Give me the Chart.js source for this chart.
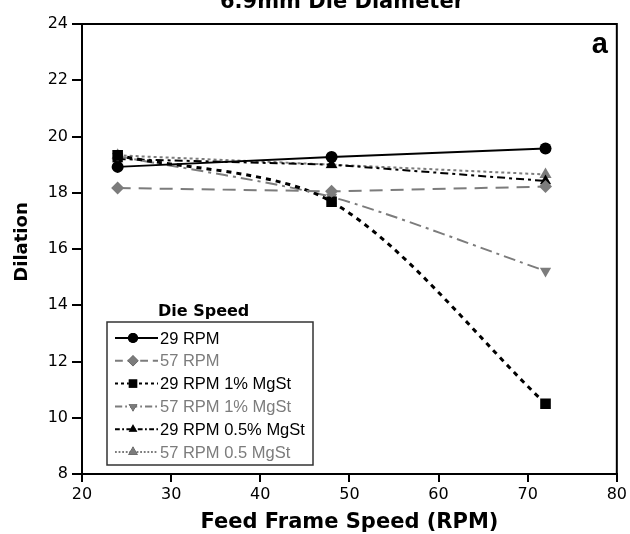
<!DOCTYPE html>
<html>
<head>
<meta charset="utf-8">
<script src="https://cdn.jsdelivr.net/npm/chart.js"></script>
<style>
  html, body { margin: 0; padding: 0; background: #fff; }
  #wrap { width: 630px; height: 534px; }
</style>
</head>
<body>
<div id="wrap"><canvas id="my-chart" width="630" height="534"></canvas></div>
<script>
// feed frame speeds (RPM)
const feedSpeeds = [24, 48, 72];

// dilation values per die speed series
const rpm29 = [18.92, 19.27, 19.57];
const rpm57 = [18.17, 18.05, 18.22];
const rpm29Mg1 = [19.33, 17.68, 10.5];
const rpm57Mg1 = [19.3, 17.85, 15.22];
const rpm29Mg05 = [19.2, 19.0, 18.42];
const rpm57Mg05 = [19.33, 19.0, 18.65];

const seriesNames = ['29 RPM', '57 RPM', '29 RPM 1% MgSt', '57 RPM 1% MgSt', '29 RPM 0.5% MgSt', '57 RPM 0.5 MgSt'];
const xTicks = [20, 30, 40, 50, 60, 70, 80];
const yTicks = [8, 10, 12, 14, 16, 18, 20, 22, 24];

const black = '#000';
const gray = '#7c7c7c';

function pts(vals) {
    return feedSpeeds.map((x, i) => ({ x: x, y: vals[i] }));
}

const styles = [
    { vals: rpm29, color: black, dash: [], width: 2, point: 'circle', r: 6, lr: 5, rot: 0, tension: 0 },
    { vals: rpm57, color: gray, dash: [13, 8], width: 2, point: 'rectRot', r: 6.5, lr: 5.5, rot: 0, tension: 0 },
    { vals: rpm29Mg1, color: black, dash: [5, 5], width: 3, point: 'rect', r: 7.5, lr: 6, rot: 0, tension: 0.3 },
    { vals: rpm57Mg1, color: gray, dash: [12, 5, 3, 5], width: 2, point: 'triangle', r: 6.5, lr: 5, rot: 180, tension: 0.25 },
    { vals: rpm29Mg05, color: black, dash: [8, 4, 3, 4], width: 2, point: 'triangle', r: 6.5, lr: 5, rot: 0, tension: 0 },
    { vals: rpm57Mg05, color: gray, dash: [3, 3], width: 2, point: 'triangle', r: 7, lr: 5.5, rot: 0, tension: 0 }
];

const datasets = styles.map((s, i) => ({
    label: seriesNames[i],
    data: pts(s.vals),
    borderColor: s.color,
    backgroundColor: s.color,
    borderWidth: s.width,
    borderDash: s.dash,
    pointStyle: s.point,
    pointRadius: s.r,
    legendRadius: s.lr,
    pointRotation: s.rot,
    pointBorderWidth: 0,
    tension: s.tension,
    fill: false
}));

// titles, "a" label, frame and legend box
const extras = {
    id: 'extras',
    afterDraw(chart) {
        const ctx = chart.ctx;
        const a = chart.chartArea;
        ctx.save();
        ctx.strokeStyle = '#000';
        ctx.lineWidth = 2;
        ctx.strokeRect(a.left, a.top, a.right - a.left, a.bottom - a.top);

        ctx.fillStyle = '#000';
        ctx.textAlign = 'center';
        ctx.textBaseline = 'alphabetic';
        ctx.font = 'bold 21px "DejaVu Sans"';
        ctx.fillText('6.9mm Die Diameter', 342, 8);
        ctx.fillText('Feed Frame Speed (RPM)', (a.left + a.right) / 2, 528);

        ctx.save();
        ctx.translate(27, 242);
        ctx.rotate(-Math.PI / 2);
        ctx.font = 'bold 18px "DejaVu Sans"';
        ctx.fillText('Dilation', 0, 0);
        ctx.restore();

        ctx.font = 'bold 29px "Liberation Sans"';
        ctx.textAlign = 'right';
        ctx.fillText('a', 608, 53);

        // legend
        const bx = 107, by = 322, bw = 206, bh = 143;
        ctx.fillStyle = '#fff';
        ctx.fillRect(bx, by, bw, bh);
        ctx.lineWidth = 1.5;
        ctx.strokeStyle = '#333';
        ctx.strokeRect(bx, by, bw, bh);
        ctx.fillStyle = '#000';
        ctx.textAlign = 'left';
        ctx.textBaseline = 'middle';
        ctx.font = 'bold 16px "DejaVu Sans"';
        ctx.fillText('Die Speed', 158, 312);

        ctx.font = '16.5px "Liberation Sans"';
        chart.data.datasets.forEach((ds, i) => {
            const y = 338 + i * 22.8;
            ctx.strokeStyle = ds.borderColor;
            ctx.lineWidth = 2;
            ctx.setLineDash(ds.borderDash.map(d => d * 0.6));
            ctx.beginPath();
            ctx.moveTo(115, y);
            ctx.lineTo(158, y);
            ctx.stroke();
            ctx.setLineDash([]);
            Chart.helpers.drawPoint(ctx, {
                pointStyle: ds.pointStyle,
                radius: ds.legendRadius,
                rotation: ds.pointRotation,
                borderWidth: 0
            }, 133, y);
            ctx.fillStyle = ds.borderColor;
            ctx.fill();
            ctx.fillText(ds.label, 160, y + 1);
        });
        ctx.restore();
    }
};

const ctx = document.getElementById('my-chart').getContext('2d');
const myChart = new Chart(ctx, {
    type: 'line',
    data: { datasets: datasets },
    options: {
        responsive: false,
        animation: false,
        layout: { padding: { top: 24, right: 10, left: 0, bottom: 0 } },
        plugins: {
            legend: { display: false },
            tooltip: { enabled: false }
        },
        scales: {
            x: {
                type: 'linear',
                min: 20,
                max: 80,
                afterBuildTicks: (axis) => { axis.ticks = xTicks.map(v => ({ value: v })); },
                afterFit: (axis) => { axis.height = 60; },
                grid: { drawOnChartArea: false, drawTicks: true, tickLength: 8, color: '#000', lineWidth: 2 },
                border: { display: true, color: '#000', width: 2 },
                ticks: { color: '#000', font: { family: 'DejaVu Sans', size: 16 }, padding: 3, maxRotation: 0 }
            },
            y: {
                min: 8,
                max: 24,
                afterBuildTicks: (axis) => { axis.ticks = yTicks.map(v => ({ value: v })); },
                afterFit: (axis) => { axis.width = 82; },
                grid: { drawOnChartArea: false, drawTicks: true, tickLength: 10, color: '#000', lineWidth: 2 },
                border: { display: true, color: '#000', width: 2 },
                ticks: { color: '#000', font: { family: 'DejaVu Sans', size: 16 }, padding: 4 }
            }
        }
    },
    plugins: [extras]
});
</script>
</body>
</html>
